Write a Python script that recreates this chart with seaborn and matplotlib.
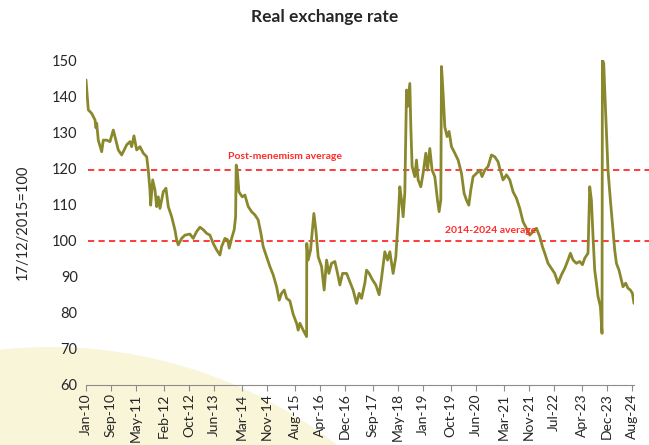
import matplotlib
matplotlib.use("Agg")
import matplotlib.pyplot as plt
from matplotlib.patches import Ellipse
import seaborn as sns
import pandas as pd

# ---- data (months since Jan-2010, index 17/12/2015=100) ----
months = [
    0.0, 0.74, 1.83, 2.88, 3.2, 3.43, 3.94, 5.03, 5.54, 6.63, 7.69, 8.75, 9.29, 10.35,
    11.44, 11.96, 13.04, 14.10, 14.65, 15.38, 16.25, 17.31, 18.37, 19.46, 19.97, 20.51,
    20.74, 21.38, 22.12, 22.66, 23.17, 23.72, 24.78, 25.64, 26.38, 27.47, 28.53, 29.07,
    29.58, 30.67, 31.73, 33.33, 34.39, 35.48, 36.54, 37.60, 38.69, 39.74, 40.80, 41.89,
    42.95, 43.49, 44.55, 45.42, 45.93, 46.70, 47.53, 47.98, 48.17, 48.49, 49.04, 50.10,
    50.96, 52.02, 53.11, 54.17, 55.22, 56.09, 56.83, 57.92, 58.97, 60.03, 61.12, 61.96,
    62.72, 63.56, 64.33, 65.38, 66.44, 67.53, 68.04, 68.59, 69.65, 70.74, 70.80, 71.25,
    72.02, 73.08, 73.72, 74.46, 75.54, 76.38, 77.15, 77.88, 78.75, 79.81, 80.67, 81.41,
    82.28, 83.56, 84.62, 85.67, 86.76, 87.60, 88.37, 89.42, 89.97, 90.80, 91.89, 92.95,
    94.01, 94.78, 95.83, 96.70, 97.44, 98.49, 99.36, 100.1, 100.64, 101.19, 101.70,
    102.24, 102.79, 103.11, 103.85, 104.17, 104.58, 105.45, 105.99, 106.51, 107.37,
    108.11, 108.97, 109.52, 110.26, 110.99, 111.86, 112.72, 113.24, 113.78, 114.01,
    114.52, 115.06, 115.80, 116.44, 117.21, 118.27, 119.33, 120.42, 121.25, 122.02,
    122.76, 123.40, 124.14, 125.22, 126.28, 127.02, 127.88, 128.94, 130.03, 131.09,
    132.15, 132.69, 133.75, 134.84, 135.90, 136.96, 138.05, 139.10, 140.16, 141.25,
    142.31, 143.37, 144.46, 145.51, 146.38, 147.12, 148.17, 149.26, 150.32, 151.38,
    152.47, 153.53, 154.58, 155.35, 156.19, 157.28, 158.33, 159.20, 159.94, 160.99,
    161.54, 162.08, 162.60, 163.14, 163.69, 164.20, 164.97, 165.48, 165.61, 166.03,
    166.35, 166.89, 167.40, 168.17, 169.01, 169.55, 170.10, 170.93, 171.70, 172.21,
    173.08, 173.81, 174.58, 175.22, 175.74,
]
rer = [
    144.5, 136.2, 135.2, 133.4, 131.2, 132.5, 127.8, 124.6, 127.8, 127.8, 127.4, 130.6, 128.8, 125.1,
    123.7, 124.6, 126.5, 127.4, 126.0, 129.0, 125.1, 126.0, 124.2, 123.2, 119.5, 114.0,
    109.8, 116.8, 114.0, 109.4, 112.1, 108.9, 113.5, 114.5, 109.4, 106.6, 102.9, 100.2,
    98.8, 100.6, 101.5, 101.8, 100.6, 102.5, 103.7, 103.0, 102.0, 101.5, 99.2, 97.4,
    96.0, 98.3, 100.6, 100.2, 97.9, 100.6, 103.0, 106.6, 120.9, 119.5, 113.5, 112.1,
    112.6, 109.4, 108.0, 107.1, 105.7, 102.0, 98.3, 95.5, 92.8, 90.5, 87.2, 83.5,
    85.4, 86.3, 84.0, 83.3, 79.6, 77.1, 75.2, 77.1, 75.2, 73.4, 99.2, 94.6,
    97.4, 107.5, 102.9, 95.5, 92.8, 86.3, 94.6, 90.9, 93.7, 94.2, 90.9, 87.7,
    90.9, 90.9, 88.6, 86.3, 82.6, 85.4, 84.0, 88.2, 91.8, 90.9, 89.1, 87.7,
    85.0, 89.6, 96.9, 94.6, 96.9, 90.9, 95.5, 105.7, 114.9, 111.2, 106.6,
    113.1, 141.7, 137.1, 143.5, 131.5, 120.5, 117.7, 122.3, 116.8, 114.9,
    118.6, 124.2, 119.5, 125.5, 119.5, 117.7, 111.2, 108.0, 111.2, 148.2,
    140.8, 131.5, 128.8, 130.2, 126.0, 124.2, 122.3, 118.6, 113.1, 111.2,
    109.8, 114.0, 117.7, 118.6, 119.5, 117.7, 119.5, 120.5, 123.7, 123.2,
    121.8, 120.0, 116.8, 118.2, 116.8, 113.5, 111.7, 108.9, 105.2, 103.4,
    101.5, 102.5, 103.4, 101.1, 98.3, 96.5, 93.7, 92.3, 90.9, 88.2,
    90.5, 92.3, 94.6, 96.5, 94.6, 93.7, 94.2, 93.3, 95.1, 96.5,
    114.9, 111.2, 101.1, 91.8, 88.2, 84.5, 81.7, 74.3, 150.0, 149.1,
    141.7, 130.6, 119.5, 111.2, 102.9, 97.4, 93.7, 91.8, 89.1, 87.2,
    88.2, 86.8, 86.3, 85.4, 82.6,
]

tick_months = [0, 8, 16, 25, 33, 41, 50, 58, 67, 75, 83, 92, 100, 108, 117, 125, 134,
               142, 150, 159, 167, 175]
tick_labels = ["Jan-10", "Sep-10", "May-11", "Feb-12", "Oct-12", "Jun-13", "Mar-14",
               "Nov-14", "Aug-15", "Apr-16", "Dec-16", "Sep-17", "May-18", "Jan-19",
               "Oct-19", "Jun-20", "Mar-21", "Nov-21", "Jul-22", "Apr-23", "Dec-23",
               "Aug-24"]
y_ticks = [60, 70, 80, 90, 100, 110, 120, 130, 140, 150]

ref_values = [119.5, 100.0]
ref_labels = ["Post-menemism average", "2014-2024 average"]

sns.set_style("white")
plt.rcParams["font.family"] = ["Lato", "DejaVu Sans"]

df = pd.DataFrame({"month": months, "rer": rer})

fig = plt.figure(figsize=(6.49, 4.45), dpi=100)
fig.patch.set_facecolor("white")

# decorative pale circle in lower-left corner
circ = Ellipse((50 / 649, -372 / 445), 940 / 649, 940 / 445,
               transform=fig.transFigure, facecolor="#F8F5D9", edgecolor="none", zorder=0)
fig.add_artist(circ)

ax = fig.add_axes([86 / 649, 1 - 385 / 445, (634 - 86) / 649, (385 - 60) / 445])
ax.set_zorder(1)
ax.patch.set_alpha(0)

sns.lineplot(data=df, x="month", y="rer", ax=ax, color="#8A882C", linewidth=2.0,
             sort=False, estimator=None)

xmax_frac = (649 - 86) / (634 - 86)
for v in ref_values:
    ax.axhline(v, xmin=0.003, xmax=xmax_frac, color="#FF3B3B", linestyle=(0, (3.2, 2.2)),
               linewidth=1.4, clip_on=False, zorder=1)

ax.text(63.8, 123.4, ref_labels[0], color="#FF2A2A", fontsize=7.5, fontweight="bold",
        ha="center", va="center")
ax.text(129.8, 102.7, ref_labels[1], color="#FF2A2A", fontsize=7.5, fontweight="bold",
        ha="center", va="center")

ax.set_xlim(0, 175.74)
ax.set_ylim(60, 150)
ax.set_xticks(tick_months)
ax.set_xticklabels(tick_labels, rotation=90, fontsize=10)
ax.set_yticks(y_ticks)
ax.set_yticklabels([str(t) for t in y_ticks], fontsize=10.5)
ax.set_xlabel("")
ax.set_ylabel("17/12/2015=100", fontsize=10.5, labelpad=16)

for s in ["top", "right", "left"]:
    ax.spines[s].set_visible(False)
ax.spines["bottom"].set_color("#8C8C8C")
ax.spines["bottom"].set_linewidth(0.8)
ax.tick_params(axis="x", direction="out", length=4, width=0.8, color="#8C8C8C",
               pad=2, bottom=True)
ax.tick_params(axis="y", length=0, pad=6)
ax.grid(False)

fig.text(0.5, 1 - 17 / 445, "Real exchange rate", ha="center", va="center",
         fontsize=12.5, fontweight="bold")

fig.savefig("out.png", dpi=100)
